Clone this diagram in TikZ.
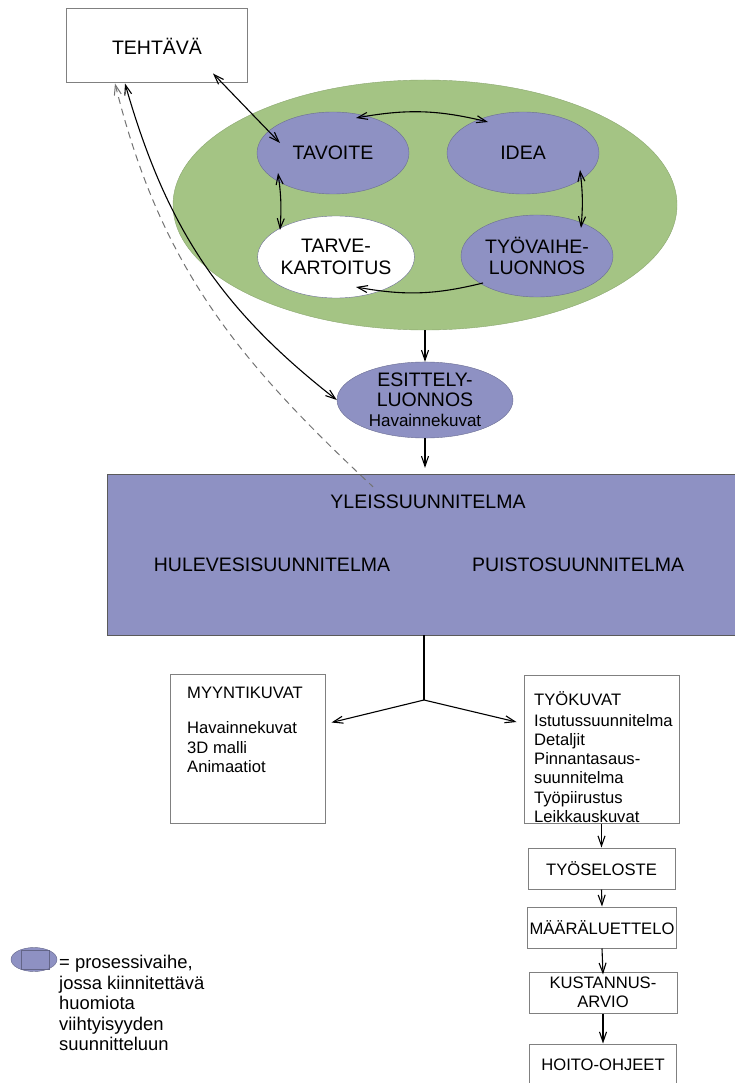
\documentclass[tikz,border=0pt]{standalone}
\usepackage{fontspec}
\setmainfont{Liberation Sans}
\usetikzlibrary{shapes.geometric,arrows.meta}
\definecolor{vihrea}{RGB}{164,196,132}
\definecolor{violetti}{RGB}{142,145,195}
\definecolor{reuna}{RGB}{128,128,128}

\begin{document}
\begin{tikzpicture}[x=1pt, y=1pt,
    >={Straight Barb[length=10pt,width=7pt]},
    iso/.style={font=\fontsize{19.5}{21.5}\selectfont},
    pieni/.style={font=\fontsize{16.6}{19.2}\selectfont},
    vaihe/.style={ellipse, draw=violetti!75!black, fill=violetti, inner sep=0pt, align=center, iso, minimum width=152pt, minimum height=82pt},
    laatikko/.style={draw=reuna, line width=1pt, fill=white, inner sep=2pt, align=center, pieni},
    viiva/.style={line width=1.1pt},
    katko/.style={line width=1pt, draw=reuna!90!black, dash pattern=on 7pt off 5pt}
]

\useasboundingbox (0,0) rectangle (735,-1083);

\node[laatikko, iso, minimum width=181pt, minimum height=74pt] (tehtava) at (157,-46) {TEHTÄVÄ};

\node[ellipse, draw=vihrea!85!black, fill=vihrea, minimum width=504pt, minimum height=250pt] (suunnittelu) at (425,-205) {};
\node[vaihe] (tavoite) at (333,-153) {TAVOITE};
\node[vaihe] (idea) at (523,-153) {IDEA};
\node[vaihe, fill=white] (tarve) at (336,-257) {TARVE-\\KARTOITUS};
\node[vaihe] (tyovaihe) at (537,-256) {TYÖVAIHE-\\LUONNOS};

\node[vaihe, minimum width=176pt, minimum height=76pt, font=\fontsize{19.5}{20}\selectfont] (esittely) at (425,-400) {ESITTELY-\\LUONNOS\\{\fontsize{17}{18}\selectfont Havainnekuvat}};

\node[draw=reuna!70!black, fill=violetti, minimum width=632pt, minimum height=161pt, inner sep=0pt] (yleis) at (423,-554.5) {};
\node[iso] (yleisteksti) at (428,-502) {YLEISSUUNNITELMA};
\node[iso] (hulevesi) at (272,-565) {HULEVESISUUNNITELMA};
\node[iso] (puisto) at (578,-565) {PUISTOSUUNNITELMA};

\node[laatikko, minimum width=155pt, minimum height=149pt] (myynti) at (247.5,-748.5) {};
\node[pieni, anchor=north west, align=left, inner sep=0pt] (myyntiteksti) at (187,-687) {MYYNTIKUVAT\\[16pt]Havainnekuvat\\3D malli\\Animaatiot};

\node[laatikko, minimum width=155pt, minimum height=148pt] (tyokuvat) at (601.5,-749) {};
\node[pieni, anchor=north west, align=left, inner sep=0pt] (tyokuvateksti) at (534,-691) {TYÖKUVAT\\[2pt]Istutussuunnitelma\\Detaljit\\Pinnantasaus-\\suunnitelma\\Työpiirustus\\Leikkauskuvat};

\node[laatikko, minimum width=147pt, minimum height=41pt] (tyoseloste) at (601.5,-868.5) {TYÖSELOSTE};
\node[laatikko, minimum width=148pt, minimum height=41pt] (maara) at (602,-927.5) {MÄÄRÄLUETTELO};
\node[laatikko, minimum width=148pt, minimum height=41pt] (kustannus) at (603,-992.5) {KUSTANNUS-\\ARVIO};
\node[laatikko, minimum width=147pt, minimum height=41pt] (hoito) at (603,-1064.5) {HOITO-OHJEET};

\node[ellipse, draw=violetti!70!black, fill=violetti, minimum width=46pt, minimum height=24pt, inner sep=0pt] (selite) at (34,-959.5) {};
\draw[violetti!70!black, line width=0.6pt] ([xshift=-13pt,yshift=-9.5pt]selite.center) rectangle ([xshift=15pt,yshift=9.5pt]selite.center);
\node[anchor=north west, align=left, inner sep=0pt, font=\fontsize{18.4}{20.5}\selectfont] (seliteteksti) at (59,-955) {= prosessivaihe,\\jossa kiinnitettävä\\huomiota\\viihtyisyyden\\suunnitteluun};

\draw[viiva, <->] ([xshift=-35pt,yshift=10pt]tehtava.south east) -- ([xshift=-53pt,yshift=10pt]tavoite.center);
\draw[viiva, <->] ([xshift=23pt,yshift=35pt]tavoite.center) to[bend left=12] ([xshift=-35pt,yshift=31pt]idea.center);
\draw[viiva, <->] ([xshift=-55pt,yshift=-20pt]tavoite.center) to[bend left=6] ([xshift=-56pt,yshift=27pt]tarve.center);
\draw[viiva, <->] ([xshift=57pt,yshift=-17pt]idea.center) to[bend left=6] ([xshift=44pt,yshift=28pt]tyovaihe.center);
\draw[viiva, ->] ([xshift=-54pt,yshift=-27pt]tyovaihe.center) to[bend left=12] ([xshift=20pt,yshift=-30pt]tarve.center);

\draw[viiva, ->] (suunnittelu.south) -- (esittely.north);
\draw[viiva, ->] (esittely.south) -- ([yshift=6pt]esittely.south |- yleis.north);

\draw[viiva, <->] ([xshift=-32pt]tehtava.south) to[out=-74, in=142] (esittely.west);
\draw[katko, <-] ([xshift=-42pt]tehtava.south) to[out=-76, in=137] ([xshift=-50pt,yshift=-13pt]yleis.north);

\coordinate (haara) at (424,-700);
\draw[viiva] (yleis.south -| haara) -- (haara);
\draw[viiva, ->] (haara) -- ([xshift=6pt,yshift=26pt]myynti.east);
\draw[viiva, ->] (haara) -- ([xshift=-7pt,yshift=27pt]tyokuvat.west);

\draw[viiva, ->] (tyokuvat.south) -- (tyoseloste.north);
\draw[viiva, ->] (tyoseloste.south) -- (maara.north);
\draw[viiva, ->] (maara.south) -- ([yshift=-3pt]kustannus.north);
\draw[viiva, ->] (kustannus.south) -- (hoito.north);

\end{tikzpicture}
\end{document}
